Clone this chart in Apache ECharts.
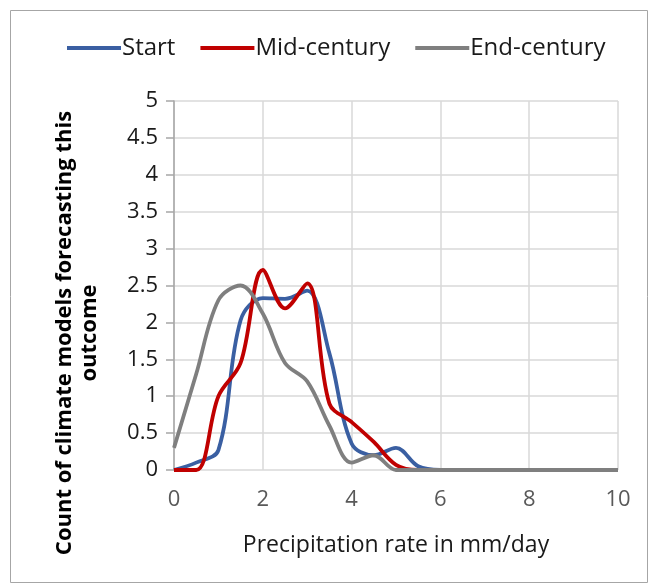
<!DOCTYPE html>
<html>
<head>
<meta charset="utf-8">
<script src="https://cdn.jsdelivr.net/npm/echarts@6/dist/echarts.min.js"></script>
<style>
  html, body { margin: 0; padding: 0; background: #fff; }
  #chart { width: 654px; height: 588px; }
</style>
</head>
<body>
<div id="chart"></div>
<script>
// Precipitation rate (mm/day) sampled every 0.5
const rates = [0, 0.5, 1, 1.5, 2, 2.5, 3, 3.5, 4, 4.5, 5, 5.5, 6, 6.5, 7, 7.5, 8, 8.5, 9, 9.5, 10];

// Number of climate models forecasting each rate
const startCounts = [0, 0.1, 0.27, 2.03, 2.33, 2.32, 2.43, 1.58, 0.36, 0.2, 0.3, 0.05, 0, 0, 0, 0, 0, 0, 0, 0, 0];
const midCounts   = [0, 0, 1.0, 1.45, 2.71, 2.19, 2.53, 0.9, 0.65, 0.38, 0.07, 0, 0, 0, 0, 0, 0, 0, 0, 0, 0];
const endCounts   = [0.3, 1.3, 2.3, 2.5, 2.12, 1.45, 1.2, 0.6, 0.1, 0.2, 0, 0, 0, 0, 0, 0, 0, 0, 0, 0, 0];

const seriesNames = ['Start', 'Mid-century', 'End-century'];
const seriesColors = ['#3A5FA2', '#C00000', '#7F7F7F'];

const FONT = '"Open Sans", "Noto Sans", sans-serif';

function pairs(values) {
  return rates.map((r, i) => [r, values[i]]);
}

const chart = echarts.init(document.getElementById('chart'), null, { renderer: 'canvas' });

const lineSeries = [startCounts, midCounts, endCounts].map((vals, i) => ({
  name: seriesNames[i],
  type: 'line',
  data: pairs(vals),
  smooth: 0.35,
  showSymbol: false,
  symbol: 'none',
  lineStyle: { width: 3.8, color: seriesColors[i] },
  itemStyle: { color: seriesColors[i] },
  z: 3 + i
}));

chart.setOption({
  animation: false,
  backgroundColor: '#ffffff',
  textStyle: { fontFamily: FONT },
  legend: {
    top: 36,
    left: 67,
    itemWidth: 54,
    itemHeight: 4,
    itemGap: 25,
    padding: 0,
    icon: 'rect',
    textStyle: { fontFamily: FONT, fontSize: 24, color: '#1a1a1a', padding: [0, 0, 0, -4] },
    data: seriesNames
  },
  grid: { left: 174, right: 36, top: 101, bottom: 118, containLabel: false },
  xAxis: {
    type: 'value',
    min: 0,
    max: 10,
    interval: 2,
    axisLine: { show: false },
    axisTick: { show: false },
    axisLabel: { fontFamily: FONT, fontSize: 22, color: '#595959', margin: 19 },
    splitLine: { show: true, lineStyle: { color: '#d9d9d9', width: 1.5 } }
  },
  yAxis: {
    type: 'value',
    min: 0,
    max: 5,
    interval: 0.5,
    axisLine: { show: true, lineStyle: { color: '#a6a6a6', width: 1.5 } },
    axisTick: { show: true, inside: false, length: 8, lineStyle: { color: '#a6a6a6', width: 1.5 } },
    axisLabel: { fontFamily: FONT, fontSize: 22, color: '#1a1a1a', margin: 16 },
    splitLine: { show: true, lineStyle: { color: '#d9d9d9', width: 1.5 } }
  },
  graphic: [
    {
      type: 'rect',
      left: 8,
      top: 8,
      shape: { x: 0, y: 0, width: 637, height: 572 },
      style: { fill: 'none', stroke: '#a6a6a6', lineWidth: 1 },
      silent: true,
      z: -10
    },
    {
      type: 'text',
      x: 77,
      y: 333,
      rotation: Math.PI / 2,
      style: {
        text: 'Count of climate models forecasting this\noutcome',
        fontFamily: FONT,
        fontSize: 22,
        fontWeight: 'bold',
        fill: '#000000',
        align: 'center',
        verticalAlign: 'middle',
        lineHeight: 25
      }
    },
    {
      type: 'text',
      x: 396,
      y: 545,
      style: {
        text: 'Precipitation rate in mm/day',
        fontFamily: FONT,
        fontSize: 23,
        fill: '#1a1a1a',
        align: 'center',
        verticalAlign: 'middle'
      }
    }
  ],
  series: lineSeries
});
</script>
</body>
</html>
